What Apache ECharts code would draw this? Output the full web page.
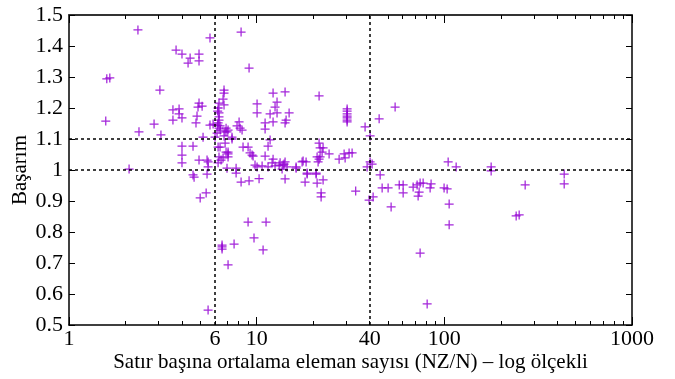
<!DOCTYPE html>
<html>
<head>
<meta charset="utf-8">
<script src="https://cdn.jsdelivr.net/npm/echarts@6/dist/echarts.min.js"></script>
<style>html,body{margin:0;padding:0;background:#fff}#c{width:675px;height:379px}</style>
</head>
<body>
<div id="c"></div>
<script>
// Data: average non-zeros per row (NZ/N) and speedup (Başarım)
const nzPerRow = [
  1.59,1.65,1.57,2.33,2.36,2.09,3.05,2.84,3.09,
  3.72,4.0,4.31,4.42,4.93,4.93,5.64,
  3.58,3.86,3.86,4.0,3.58,4.93,4.87,5.12,4.81,4.75,5.64,5.86,5.18,6.0,
  4.0,4.0,4.0,4.58,4.93,5.44,5.51,5.51,
  4.58,4.64,5.44,5.0,5.38,5.51,
  6.54,6.54,6.54,7.04,7.58,9.0,11.22,9.68,10.82,
  8.26,9.11,10.3,
  6.70,6.70,6.62,6.30,6.23,6.30,6.30,6.23,6.38,6.30,6.15,6.87,6.95,7.39,8.06,7.86,8.16,8.36,
  6.2,6.3,6.4,6.2,6.7,
  6.38,6.79,7.04,7.04,7.04,6.62,6.23,8.46,9.0,9.22,9.57,9.80,10.05,
  6.23,6.46,6.30,6.87,6.95,7.77,7.77,6.70,7.04,6.79,7.39,
  9.11,8.26,10.05,10.05,
  12.23,14.17,12.84,12.53,12.84,11.79,14.89,14.35,14.17,12.23,11.09,11.09,
  11.79,11.5,9.45,11.09,12.23,12.08,10.69,11.5,12.53,13.17,14.0,13.66,14.52,16.22,14.17,
  13.83,14.17,13.33,17.46,18.34,
  18.11,18.57,20.74,20.99,22.59,22.05,22.05,
  21.51,30.34,30.34,30.34,30.34,30.34,30.34,30.34,
  44.94,37.82,40.23,
  21.51,21.78,22.59,22.32,21.78,21.51,21.25,20.99,
  24.32,29.24,32.25,31.08,27.5,29.6,
  17.68,16.22,18.57,20.74,
  40.23,41.23,38.77,45.5,33.7,41.74,39.73,
  54.67,46.62,50.17,52.05,57.5,60.33,60.33,68.2,71.6,74.3,77.1,73.4,72.5,85.0,84.0,
  99.7,103.5,106.1,106.1,104.8,115.6,177.6,177.6,250.5,241.4,269.6,435.2,435.2,74.3,81.0
];
const speedup = [
  1.294,1.297,1.158,1.452,1.123,1.003,1.258,1.148,1.113,
  1.387,1.374,1.345,1.361,1.374,1.352,1.426,
  1.194,1.197,1.181,1.168,1.161,1.216,1.203,1.206,1.174,1.152,1.145,1.148,1.106,1.106,
  1.077,1.048,1.023,1.077,1.032,1.032,1.026,1.010,
  0.984,0.977,0.987,0.910,0.926,0.548,
  0.758,0.752,0.745,0.694,0.761,0.832,0.832,0.781,0.742,
  0.961,0.965,0.972,
  1.258,1.248,1.229,1.216,1.200,1.184,1.171,1.152,1.142,1.135,1.119,1.135,1.123,1.106,1.155,1.142,1.135,1.129,
  1.190,1.161,1.129,1.145,1.210,
  1.074,1.087,1.058,1.052,1.042,1.039,1.023,1.074,1.074,1.055,1.045,1.016,1.010,
  1.074,1.032,1.042,1.058,1.006,1.006,0.990,1.110,1.129,1.123,1.100,
  1.329,1.445,1.213,1.184,
  1.248,1.252,1.219,1.203,1.184,1.181,1.184,1.161,1.152,1.155,1.152,1.132,
  1.097,1.077,1.048,1.045,1.035,1.023,1.013,1.010,1.013,1.016,1.019,1.003,1.010,1.010,0.971,
  1.016,1.026,1.023,1.026,1.026,
  0.961,0.987,0.987,0.958,0.968,0.926,0.913,
  1.239,1.197,1.190,1.181,1.174,1.168,1.161,1.155,
  1.165,1.139,1.110,
  1.087,1.071,1.071,1.058,1.042,1.035,1.026,1.042,
  1.052,1.052,1.055,1.055,1.035,1.039,
  1.029,1.006,0.990,0.990,
  1.026,1.019,1.010,0.984,0.932,0.913,0.903,
  1.203,0.942,0.942,0.881,0.952,0.952,0.926,0.945,0.952,0.958,0.958,0.929,0.916,0.955,0.942,
  0.942,0.939,0.890,0.823,1.026,1.010,1.010,0.997,0.855,0.852,0.952,0.987,0.955,0.732,0.568
];
const xTickLabels = [1, 6, 10, 40, 100, 1000];
const xMajorTicks = [1, 10, 100, 1000];
const xMinorTicks = [2,3,4,5,6,7,8,9,20,30,40,50,60,70,80,90,200,300,400,500,600,700,800,900];
const refX = [6, 40];
const refY = [1.0, 1.1];
const xTitle = 'Satır başına ortalama eleman sayısı (NZ/N) – log ölçekli';
const yTitle = 'Başarım';

const points = nzPerRow.map((x, i) => [x, speedup[i]]);
const font = 'Liberation Serif';
const plus = 'path://M0.43,0H0.57V0.43H1V0.57H0.57V1H0.43V0.57H0V0.43H0.43Z';

const chart = echarts.init(document.getElementById('c'), null, {renderer: 'canvas'});
const lineBlack = {show: true, lineStyle: {color: '#000', width: 1.5}};
const tickStyle = {color: '#000', width: 1};
function extraX(pos, ticks, len) {
  return {
    type: 'log', logBase: 10, min: 1, max: 1000, position: pos,
    axisLine: {show: false},
    axisTick: {show: true, inside: true, length: len, customValues: ticks, lineStyle: tickStyle},
    axisLabel: {show: false}, splitLine: {show: false}
  };
}
chart.setOption({
  animation: false,
  grid: {left: 69, right: 43, top: 15, bottom: 54, outerBoundsMode: 'none', containLabel: false},
  xAxis: [{
    type: 'log', logBase: 10, min: 1, max: 1000, position: 'bottom',
    name: xTitle, nameLocation: 'middle', nameGap: 27, nameMoveOverlap: false,
    nameTextStyle: {fontFamily: font, fontSize: 21, color: '#000'},
    axisLine: lineBlack,
    axisTick: {show: true, inside: true, length: 8, customValues: xMajorTicks, lineStyle: tickStyle},
    axisLabel: {customValues: xTickLabels, fontFamily: font, fontSize: 22, color: '#000', margin: 3,
      formatter: v => String(Math.round(v))},
    splitLine: {show: false}
  }, {
    type: 'log', logBase: 10, min: 1, max: 1000, position: 'top',
    axisLine: {show: true, lineStyle: {color: '#333', width: 2}},
    axisTick: {show: true, inside: true, length: 8, customValues: xMajorTicks, lineStyle: tickStyle},
    axisLabel: {show: false}, splitLine: {show: false}
  }, extraX('bottom', xMinorTicks, 4), extraX('top', xMinorTicks, 4)],
  yAxis: [{
    type: 'value', min: 0.5, max: 1.5, interval: 0.1, position: 'left',
    name: yTitle, nameLocation: 'middle', nameGap: 49, nameRotate: 90, nameMoveOverlap: false,
    nameTextStyle: {fontFamily: font, fontSize: 21, color: '#000', verticalAlign: 'middle'},
    axisLine: lineBlack,
    axisTick: {show: true, inside: true, length: 6, lineStyle: tickStyle},
    axisLabel: {fontFamily: font, fontSize: 22, color: '#000', margin: 6},
    splitLine: {show: false}
  }, {
    type: 'value', min: 0.5, max: 1.5, interval: 0.1, position: 'right',
    axisLine: lineBlack,
    axisTick: {show: true, inside: true, length: 6, lineStyle: tickStyle},
    axisLabel: {show: false}, splitLine: {show: false}
  }],
  series: [{
    type: 'scatter',
    data: points,
    symbol: plus,
    symbolSize: 9,
    itemStyle: {color: '#9400d3', opacity: 0.85},
    markLine: {
      silent: true, symbol: 'none', animation: false,
      label: {show: false},
      lineStyle: {color: '#000', type: [3, 3], width: 1.5},
      data: refX.map(v => ({xAxis: v})).concat(refY.map(v => ({yAxis: v})))
    }
  }]
});
</script>
</body>
</html>
